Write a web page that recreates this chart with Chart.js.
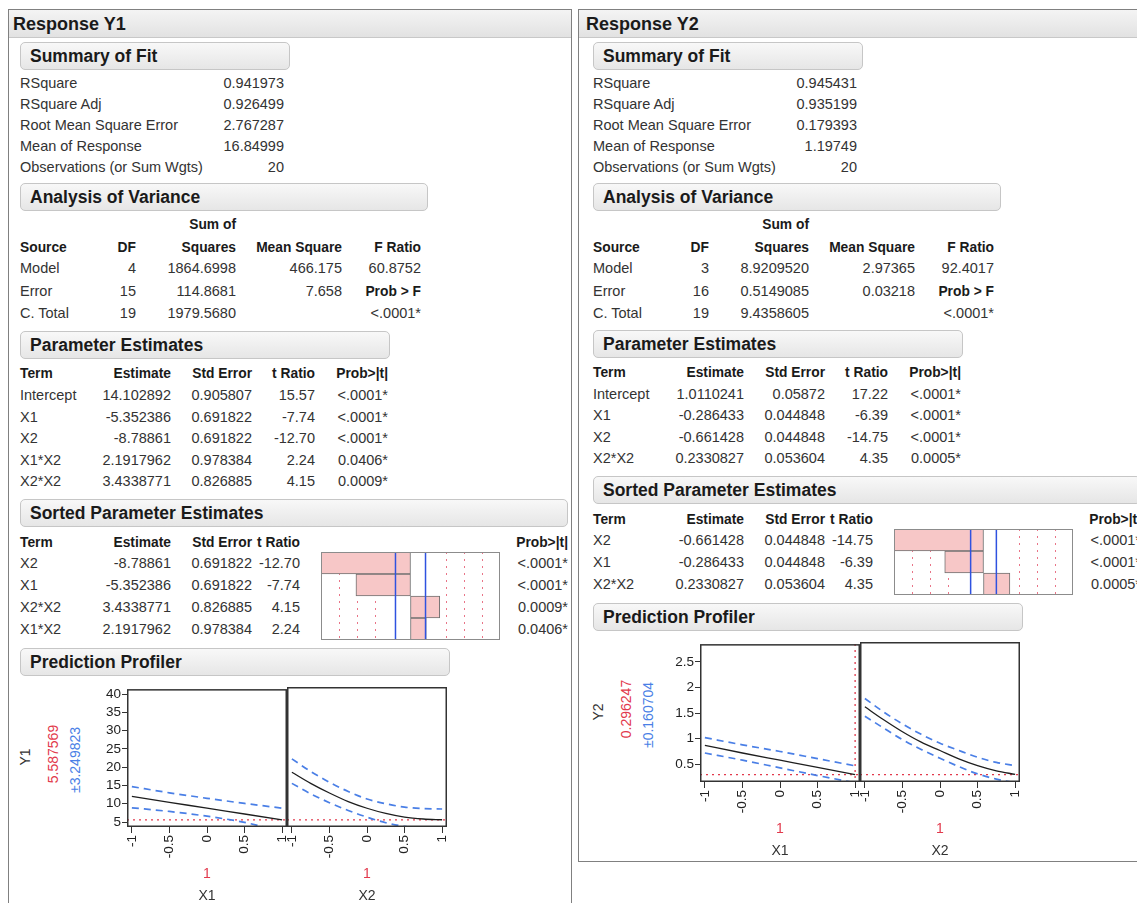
<!DOCTYPE html>
<html lang="en">
<head>
<meta charset="UTF-8" />
<title>Response Y1 / Response Y2</title>
<script src="https://cdn.jsdelivr.net/npm/chart.js"></script>
<style>
  body { margin: 0; background: #fff; font-family: 'Liberation Sans', Arial, sans-serif; color: #333; }
  #page { position: relative; width: 1137px; height: 903px; overflow: hidden; }
  .panel { position: absolute; border: 1.5px solid #808080; box-sizing: border-box; }
  .band { position: absolute; left: 0; right: 0; top: 0; height: 27px; background: linear-gradient(#f4f4f4, #e2e2e2); border-bottom: 1px solid #c8c8c8; }
  .sec { position: absolute; height: 28px; box-sizing: border-box; border: 1px solid #c6c6c6; border-radius: 5px;
         background: linear-gradient(#f8f8f8, #e6e6e6); font-weight: bold; font-size: 17.5px; line-height: 26px;
         padding-left: 9px; color: #1a1a1a; white-space: nowrap; overflow: hidden; }
  .t { position: absolute; white-space: nowrap; font-size: 14.5px; line-height: 17px; transform: translateY(-50%); }
  .r { transform: translate(-100%, -50%); }
  .b { font-weight: bold; font-size: 13.8px; color: #1a1a1a; }
  .hd { font-weight: bold; font-size: 18px; color: #1a1a1a; }
  .rot { font-size: 14px; transform: translate(-50%, -50%) rotate(-90deg); }
  .c { font-size: 14px; transform: translate(-50%, -50%); }
  canvas { position: absolute; }
</style>
</head>
<body>
<div id="page"></div>
<script>
// ---------- data ----------
const fitLabels = ['RSquare', 'RSquare Adj', 'Root Mean Square Error', 'Mean of Response', 'Observations (or Sum Wgts)'];
const y1Fit = ['0.941973', '0.926499', '2.767287', '16.84999', '20'];
const y2Fit = ['0.945431', '0.935199', '0.179393', '1.19749', '20'];

const anovaSources = ['Model', 'Error', 'C. Total'];
const y1DF = ['4', '15', '19'];
const y1SS = ['1864.6998', '114.8681', '1979.5680'];
const y1MS = ['466.175', '7.658', ''];
const y1FRatio = '60.8752';
const y2DF = ['3', '16', '19'];
const y2SS = ['8.9209520', '0.5149085', '9.4358605'];
const y2MS = ['2.97365', '0.03218', ''];
const y2FRatio = '92.4017';
const probF = '<.0001*';

const y1Terms = ['Intercept', 'X1', 'X2', 'X1*X2', 'X2*X2'];
const y1Est = ['14.102892', '-5.352386', '-8.78861', '2.1917962', '3.4338771'];
const y1StdErr = ['0.905807', '0.691822', '0.691822', '0.978384', '0.826885'];
const y1TRatio = [15.57, -7.74, -12.70, 2.24, 4.15];
const y1Prob = ['<.0001*', '<.0001*', '<.0001*', '0.0406*', '0.0009*'];
const y1TCrit = 2.131;

const y2Terms = ['Intercept', 'X1', 'X2', 'X2*X2'];
const y2Est = ['1.0110241', '-0.286433', '-0.661428', '0.2330827'];
const y2StdErr = ['0.05872', '0.044848', '0.044848', '0.053604'];
const y2TRatio = [17.22, -6.39, -14.75, 4.35];
const y2Prob = ['<.0001*', '<.0001*', '<.0001*', '0.0005*'];
const y2TCrit = 2.120;

// prediction profiler
const xTicks = [-1, -0.5, 0, 0.5, 1];
const y1Ticks = [5, 10, 15, 20, 25, 30, 35, 40];
const y2Ticks = [0.5, 1, 1.5, 2, 2.5];
const xs5 = [-1, -0.5, 0, 0.5, 1];
const xs9 = [-1, -0.75, -0.5, -0.25, 0, 0.25, 0.5, 0.75, 1];

const y1X1Pred = [12.0, 10.4, 8.8, 7.2, 5.6];
const y1X1Upper = [14.7, 13.0, 11.5, 10.1, 8.8];
const y1X1Lower = [8.9, 7.9, 6.6, 4.9, 2.4];
const y1X2Pred = [18.4, 15.4, 12.8, 10.5, 8.7, 7.3, 6.3, 5.8, 5.6];
const y1X2Upper = [22.0, 18.6, 15.7, 13.2, 11.2, 9.9, 9.0, 8.6, 8.5];
const y1X2Lower = [15.4, 12.6, 10.2, 8.1, 6.3, 4.8, 3.8, 3.2, 2.9];

const y2X1Pred = [0.87, 0.72, 0.58, 0.44, 0.30];
const y2X1Upper = [1.02, 0.88, 0.75, 0.61, 0.47];
const y2X1Lower = [0.72, 0.58, 0.43, 0.28, 0.14];
const y2X2Pred = [1.60, 1.35, 1.12, 0.92, 0.76, 0.60, 0.47, 0.37, 0.30];
const y2X2Upper = [1.76, 1.50, 1.27, 1.07, 0.90, 0.76, 0.63, 0.53, 0.47];
const y2X2Lower = [1.42, 1.19, 0.97, 0.78, 0.61, 0.45, 0.31, 0.21, 0.14];

const y1Current = '5.587569', y1Ci = '±3.249823';
const y2Current = '0.296247', y2Ci = '±0.160704';
const factorCurrent = 1;

// ---------- helpers ----------
const RED = '#e2394c', BLUE = '#4a7fe6', PINK = '#f7c7c7';
const page = document.getElementById('page');

function txt(s, x, y, cls, color) {
  const d = document.createElement('div');
  d.className = 't ' + (cls || '');
  d.textContent = s;
  d.style.left = x + 'px';
  d.style.top = y + 'px';
  if (color) d.style.color = color;
  page.appendChild(d);
}
function sec(label, x, y, w) {
  const d = document.createElement('div');
  d.className = 'sec';
  d.textContent = label;
  d.style.left = x + 'px'; d.style.top = y + 'px'; d.style.width = w + 'px';
  page.appendChild(d);
}
function panel(x, y, w, h) {
  const d = document.createElement('div');
  d.className = 'panel';
  d.style.left = x + 'px'; d.style.top = y + 'px'; d.style.width = w + 'px'; d.style.height = h + 'px';
  d.innerHTML = '<div class="band"></div>';
  page.appendChild(d);
}
function makeCanvas(x, y, w, h) {
  const c = document.createElement('canvas');
  c.width = w; c.height = h;
  c.style.left = x + 'px'; c.style.top = y + 'px';
  c.style.width = w + 'px'; c.style.height = h + 'px';
  page.appendChild(c);
  return c;
}

Chart.defaults.font.family = "'Liberation Sans', Arial, sans-serif";
Chart.defaults.font.size = 13.5;
Chart.defaults.color = '#222';

const frame = {
  id: 'frame',
  afterDraw(chart, args, o) {
    const a = chart.chartArea, c = chart.ctx, w = o.width || 1;
    c.save();
    c.strokeStyle = o.color || '#333';
    c.lineWidth = w;
    c.strokeRect(a.left + w / 2, a.top + w / 2, a.right - a.left - w, a.bottom - a.top - w);
    c.restore();
  }
};

const profRef = {
  id: 'profRef',
  beforeDatasetsDraw(chart, args, o) {
    const { ctx, chartArea: a, scales: { x, y } } = chart;
    ctx.save();
    ctx.strokeStyle = RED; ctx.lineWidth = 1.3; ctx.setLineDash([2, 4]);
    const py = y.getPixelForValue(o.y);
    ctx.beginPath(); ctx.moveTo(a.left, py); ctx.lineTo(a.right, py); ctx.stroke();
    if (o.vline) {
      const px = x.getPixelForValue(o.x);
      ctx.beginPath(); ctx.moveTo(px, a.top); ctx.lineTo(px, a.bottom); ctx.stroke();
    }
    ctx.restore();
  }
};

const tGuides = {
  id: 'tGuides',
  beforeDatasetsDraw(chart, args, o) {
    const { ctx, chartArea: a, scales: { x } } = chart;
    ctx.save();
    ctx.strokeStyle = 'rgba(225,70,95,0.75)'; ctx.lineWidth = 1; ctx.setLineDash([2, 5]);
    [0.4, 0.6, 0.8].forEach(f => [-1, 1].forEach(sg => {
      const px = Math.round(x.getPixelForValue(sg * f * o.lim)) + 0.5;
      ctx.beginPath(); ctx.moveTo(px, a.top); ctx.lineTo(px, a.bottom); ctx.stroke();
    }));
    ctx.restore();
  },
  afterDatasetsDraw(chart, args, o) {
    const { ctx, chartArea: a, scales: { x } } = chart;
    ctx.save();
    ctx.strokeStyle = '#2f52e0'; ctx.lineWidth = 1.5;
    [-o.tcrit, o.tcrit].forEach(v => {
      const px = x.getPixelForValue(v);
      ctx.beginPath(); ctx.moveTo(px, a.top); ctx.lineTo(px, a.bottom); ctx.stroke();
    });
    ctx.restore();
  }
};

function sortedChart(cv, terms, tvals, tcrit) {
  const lim = Math.max(...tvals.map(Math.abs));
  return new Chart(cv, {
    type: 'bar',
    data: {
      labels: terms,
      datasets: [{
        data: tvals, backgroundColor: PINK, borderColor: '#707070', borderWidth: 1,
        borderSkipped: false, barPercentage: 1, categoryPercentage: 1
      }]
    },
    options: {
      indexAxis: 'y', responsive: false, animation: false, events: [],
      layout: { padding: 0, autoPadding: false },
      scales: { x: { display: false, min: -lim, max: lim }, y: { display: false } },
      plugins: {
        legend: { display: false }, tooltip: { enabled: false },
        tGuides: { lim: lim, tcrit: tcrit }, frame: { color: '#8c8c8c', width: 1 }
      }
    },
    plugins: [tGuides, frame]
  });
}

function profiler(cv, o) {
  const pts = arr => o.xs.map((x, i) => ({ x: x, y: arr[i] }));
  return new Chart(cv, {
    type: 'line',
    data: {
      datasets: [
        { data: pts(o.upper), borderColor: BLUE, borderDash: [7, 5], borderWidth: 1.7, cubicInterpolationMode: 'monotone' },
        { data: pts(o.lower), borderColor: BLUE, borderDash: [7, 5], borderWidth: 1.7, cubicInterpolationMode: 'monotone' },
        { data: pts(o.pred), borderColor: '#1e1e1e', borderWidth: 1.3, cubicInterpolationMode: 'monotone' }
      ]
    },
    options: {
      responsive: false, animation: false, events: [],
      layout: { padding: { top: 7, right: o.padRight, left: 0, bottom: 0 }, autoPadding: false },
      elements: { point: { radius: 0 } },
      plugins: {
        legend: { display: false }, tooltip: { enabled: false },
        profRef: { y: o.cur, x: factorCurrent, vline: o.vline },
        frame: { color: '#333', width: 1.5 }
      },
      scales: {
        x: {
          type: 'linear', min: -1.065, max: 1.065,
          afterBuildTicks: s => { s.ticks = xTicks.map(v => ({ value: v })); },
          afterFit: s => { s.height = 43; s.paddingLeft = 0; s.paddingRight = 0; },
          ticks: { minRotation: 90, maxRotation: 90, autoSkip: false, padding: 2, callback: v => String(v) },
          grid: { drawOnChartArea: false, drawTicks: true, tickLength: 6, color: '#333' },
          border: { display: false }
        },
        y: {
          type: 'linear', min: o.yMin, max: o.yMax, display: o.showY,
          afterBuildTicks: s => { s.ticks = o.yTicks.map(v => ({ value: v })); },
          afterFit: s => { s.width = o.showY ? 47 : 0; },
          ticks: { padding: 1, callback: v => String(v) },
          grid: { drawOnChartArea: false, drawTicks: true, tickLength: 5, color: '#333' },
          border: { display: false }
        }
      }
    },
    plugins: [profRef, frame]
  });
}

// ---------- one response report ----------
function report(ox, R) {
  const L = 20 + ox, at = x => x + ox;
  txt(R.name, ox + 13, 24, 'hd');

  sec('Summary of Fit', L, 42, 270);
  fitLabels.forEach((s, i) => {
    txt(s, L, 83 + 21 * i);
    txt(R.fit[i], at(284), 83 + 21 * i, 'r');
  });

  sec('Analysis of Variance', L, 183, 408);
  txt('Sum of', at(236), 224, 'r b');
  txt('Source', L, 247, 'b');
  [['DF', 136], ['Squares', 236], ['Mean Square', 342], ['F Ratio', 421]]
    .forEach(([s, x]) => txt(s, at(x), 247, 'r b'));
  anovaSources.forEach((s, i) => {
    const y = 268 + 22.5 * i;
    txt(s, L, y);
    txt(R.df[i], at(136), y, 'r');
    txt(R.ss[i], at(236), y, 'r');
    txt(R.ms[i], at(342), y, 'r');
  });
  txt(R.f, at(421), 268, 'r');
  txt('Prob > F', at(421), 290.5, 'r b');
  txt(probF, at(421), 313, 'r');

  const dy = R.dy;
  sec('Parameter Estimates', L, 331 + dy, 370);
  txt('Term', L, 373 + dy, 'b');
  [['Estimate', 171], ['Std Error', 252], ['t Ratio', 315], ['Prob>|t|', 388]]
    .forEach(([s, x]) => txt(s, at(x), 373 + dy, 'r b'));
  R.terms.forEach((s, i) => {
    const y = 395 + dy + 21.5 * i;
    txt(s, L, y);
    txt(R.est[i], at(171), y, 'r');
    txt(R.se[i], at(252), y, 'r');
    txt(R.t[i].toFixed(2), at(315), y, 'r');
    txt(R.prob[i], at(388), y, 'r');
  });

  // sorted by |t|, intercept left out
  const idx = R.terms.map((s, i) => i).filter(i => R.terms[i] !== 'Intercept')
    .sort((a, b) => Math.abs(R.t[b]) - Math.abs(R.t[a]));
  const sy = 395 + dy + 21.5 * (R.terms.length - 1) + 18;
  sec('Sorted Parameter Estimates', L, sy, 548);
  txt('Term', L, sy + 43, 'b');
  [['Estimate', 171], ['Std Error', 252], ['t Ratio', 300], ['Prob>|t|', 568]]
    .forEach(([s, x]) => txt(s, at(x), sy + 43, 'r b'));
  const chartTop = sy + 53;
  idx.forEach((k, i) => {
    const y = chartTop + 11 + 22 * i;
    txt(R.terms[k], L, y);
    txt(R.est[k], at(171), y, 'r');
    txt(R.se[k], at(252), y, 'r');
    txt(R.t[k].toFixed(2), at(300), y, 'r');
    txt(R.prob[k], at(568), y, 'r');
  });
  sortedChart(makeCanvas(at(321), chartTop, 179, 22 * idx.length),
    idx.map(k => R.terms[k]), idx.map(k => R.t[k]), R.tcrit);

  const ppTop = chartTop + 22 * idx.length + 8;
  sec('Prediction Profiler', L, ppTop, 430);
  const plotTop = ppTop + 39, plotBot = plotTop + 140, mid = (plotTop + plotBot) / 2;
  txt(R.resp, at(25), mid, 'rot');
  txt(R.cur, at(53), mid - 3, 'rot', RED);
  txt(R.ci, at(75), mid + 3, 'rot', BLUE);

  profiler(makeCanvas(at(80), plotTop - 7, 208, 190), {
    xs: R.p1.xs, pred: R.p1.pred, upper: R.p1.upper, lower: R.p1.lower,
    yMin: R.yMin, yMax: R.yMax, yTicks: R.yTicks, cur: R.curVal, showY: true, padRight: 1, vline: R.p1.vline
  });
  profiler(makeCanvas(at(287), plotTop - 7, 162, 190), {
    xs: R.p2.xs, pred: R.p2.pred, upper: R.p2.upper, lower: R.p2.lower,
    yMin: R.yMin, yMax: R.yMax, yTicks: R.yTicks, cur: R.curVal, showY: false, padRight: 2, vline: R.p2.vline
  });
  [['X1', 207], ['X2', 367]].forEach(([s, x]) => {
    txt(String(factorCurrent), at(x), plotBot + 46, 'c', RED);
    txt(s, at(x), plotBot + 68, 'c');
  });
}

panel(8, 9, 564, 910);
panel(578, 9, 570, 853);

report(0, {
  name: 'Response Y1', fit: y1Fit, df: y1DF, ss: y1SS, ms: y1MS, f: y1FRatio, dy: 0,
  terms: y1Terms, est: y1Est, se: y1StdErr, t: y1TRatio, prob: y1Prob, tcrit: y1TCrit,
  resp: 'Y1', cur: y1Current, ci: y1Ci, curVal: parseFloat(y1Current),
  yMin: 3.65, yMax: 41.35, yTicks: y1Ticks,
  p1: { xs: xs5, pred: y1X1Pred, upper: y1X1Upper, lower: y1X1Lower, vline: false },
  p2: { xs: xs9, pred: y1X2Pred, upper: y1X2Upper, lower: y1X2Lower, vline: false }
});

report(573, {
  name: 'Response Y2', fit: y2Fit, df: y2DF, ss: y2SS, ms: y2MS, f: y2FRatio, dy: -1.5,
  terms: y2Terms, est: y2Est, se: y2StdErr, t: y2TRatio, prob: y2Prob, tcrit: y2TCrit,
  resp: 'Y2', cur: y2Current, ci: y2Ci, curVal: parseFloat(y2Current),
  yMin: 0.154, yMax: 2.846, yTicks: y2Ticks,
  p1: { xs: xs5, pred: y2X1Pred, upper: y2X1Upper, lower: y2X1Lower, vline: true },
  p2: { xs: xs9, pred: y2X2Pred, upper: y2X2Upper, lower: y2X2Lower, vline: false }
});
</script>
</body>
</html>
